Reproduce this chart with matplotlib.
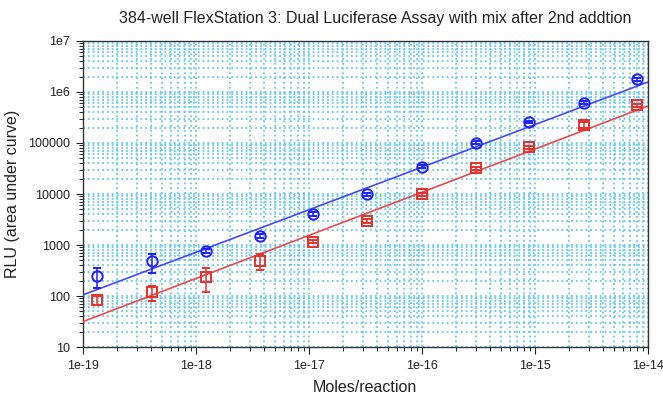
import matplotlib.pyplot as plt
import numpy as np

plt.rcParams['font.family'] = ['Liberation Sans', 'DejaVu Sans']

# 3-fold dilution series
moles = [1.35e-19, 4.1e-19, 1.23e-18, 3.7e-18, 1.1e-17, 3.3e-17,
         1.0e-16, 3.0e-16, 8.9e-16, 2.7e-15, 8.0e-15]

# firefly (blue) and renilla (red) signal, mean and sd
rlu_blue = [247, 480, 760, 1500, 4050, 9800, 34300, 101000, 258000, 617000, 1770000]
sd_blue = [103, 200, 60, 120, 300, 700, 2000, 6000, 15000, 40000, 120000]
rlu_red = [83, 118, 237, 490, 1160, 3000, 10000, 31900, 82400, 225000, 548000]
sd_red = [15, 37, 115, 170, 80, 250, 700, 2500, 6000, 30000, 40000]

# power law fits: log10(RLU) = a + b * (log10(moles) + 19)
fit_blue = (2.02, 0.835)
fit_red = (1.496, 0.846)

grid_col = '#62cbf0'

fig = plt.figure(figsize=(6.63, 3.96), dpi=100)
ax = fig.add_axes([0.1247, 0.1237, 0.8525, 0.7728])

xf = np.logspace(-19, -14, 50)
for fit, col in [(fit_blue, '#4848ff'), (fit_red, '#f04848')]:
    a, b = fit
    ax.plot(xf, 10 ** (a + b * (np.log10(xf) + 19)), color=col, lw=1.2, zorder=3)

ax.errorbar(moles, rlu_blue, yerr=sd_blue, fmt='o', ms=7.5, mfc='none', mec='#1f1fff',
            mew=1.4, ecolor='#1f1fff', elinewidth=1.1, capsize=3, zorder=4)
ax.errorbar(moles, rlu_red, yerr=sd_red, fmt='s', ms=7.5, mfc='none', mec='#e8302a',
            mew=1.4, ecolor='#e8302a', elinewidth=1.1, capsize=3, zorder=4)

ax.set_xscale('log')
ax.set_yscale('log')
ax.set_xlim(1e-19, 1e-14)
ax.set_ylim(10, 1e7)

ax.set_xticks([1e-19, 1e-18, 1e-17, 1e-16, 1e-15, 1e-14])
ax.set_xticklabels(['1e-19', '1e-18', '1e-17', '1e-16', '1e-15', '1e-14'])
ax.set_yticks([10, 100, 1000, 10000, 100000, 1e6, 1e7])
ax.set_yticklabels(['10', '100', '1000', '10000', '100000', '1e6', '1e7'])

ax.grid(True, which='both', color=grid_col, ls=':', lw=1.3)
ax.set_axisbelow(True)

ax.tick_params(which='major', direction='out', length=5, labelsize=9, colors='#222222', pad=4)
ax.tick_params(which='minor', direction='out', length=3)
for s in ax.spines.values():
    s.set_color('#333333')
    s.set_linewidth(1.0)

ax.set_xlabel('Moles/reaction', fontsize=11.5, color='#222222', labelpad=6)
ax.set_ylabel('RLU (area under curve)', fontsize=11.5, color='#222222', labelpad=6)
fig.text(375 / 663, 1 - 19 / 396,
         '384-well FlexStation 3: Dual Luciferase Assay with mix after 2nd addtion',
         ha='center', va='center', fontsize=11.5, color='#222222')

fig.savefig('out.png', dpi=100)
